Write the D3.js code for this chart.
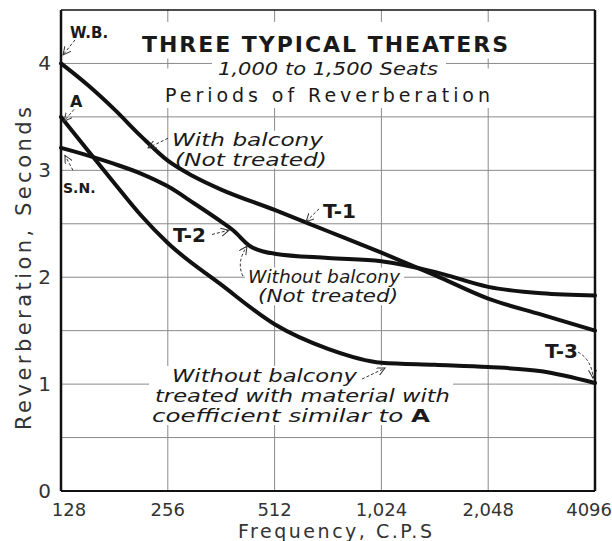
<meta charset="utf-8">
<head>
<script src="https://d3js.org/d3.v7.min.js"></script>
<style>
  body { margin: 0; background: #fff; }
  text { font-family: "DejaVu Sans", sans-serif; fill: #1a1a1a; }
</style>
</head>
<body>
<div id="container"></div>
<script>

// frequencies (c.p.s.) and reverberation periods (seconds)
var freqT1 = [128, 152, 181, 215, 256, 304, 362, 512, 724, 1024, 1448, 2048, 2896, 4096];
var secT1  = [4.0, 3.80, 3.57, 3.32, 3.09, 2.94, 2.82, 2.63, 2.43, 2.23, 2.02, 1.80, 1.65, 1.50];

var freqT2 = [128, 152, 181, 215, 256, 304, 362, 391, 437, 512, 724, 1024, 1448, 2048, 2896, 4096];
var secT2  = [3.21, 3.14, 3.06, 2.97, 2.85, 2.69, 2.52, 2.44, 2.29, 2.22, 2.18, 2.15, 2.05, 1.91, 1.85, 1.83];

var freqT3 = [128, 152, 181, 215, 256, 362, 512, 724, 1024, 1448, 2048, 2896, 4096];
var secT3  = [3.5, 3.19, 2.88, 2.58, 2.32, 1.93, 1.56, 1.33, 1.20, 1.18, 1.16, 1.12, 1.01];

var xTicks = [128, 256, 512, 1024, 2048, 4096];
var xTickLabels = ["128", "256", "512", "1,024", "2,048", "4096"];
var yTicks = [0, 1, 2, 3, 4];
var yGrid = [0.5, 1, 1.5, 2, 2.5, 3, 3.5, 4];

var width = 612, height = 541;

var svg = d3.select('#container')
  .append('svg')
  .attr('width', width)
  .attr('height', height);

var x = d3.scaleLog().base(2).domain([128, 4096]).range([61, 595]);
var y = d3.scaleLinear().domain([0, 4.5]).range([491, 10]);

// position by octaves above 128 and seconds (for the notes)
function at(oct, sec) { return [x(128 * Math.pow(2, oct)), y(sec)]; }

svg.append('defs').append('marker')
  .attr('id', 'arr')
  .attr('markerUnits', 'userSpaceOnUse')
  .attr('markerWidth', 12).attr('markerHeight', 12)
  .attr('refX', 8).attr('refY', 4)
  .attr('orient', 'auto')
  .append('path')
  .attr('d', 'M0,0 L8,4 L0,8')
  .attr('fill', 'none')
  .attr('stroke', '#333')
  .attr('stroke-width', 1);

// grid
var grid = svg.append('g');
grid.selectAll('.h').data(yGrid).enter().append('line')
  .attr('x1', x(128)).attr('x2', x(4096))
  .attr('y1', d => y(d)).attr('y2', d => y(d))
  .attr('stroke', '#8a8a8a').attr('stroke-width', 1);
grid.selectAll('.v').data(xTicks.slice(1, -1)).enter().append('line')
  .attr('x1', d => x(d)).attr('x2', d => x(d))
  .attr('y1', y(0)).attr('y2', y(4.5))
  .attr('stroke', '#8a8a8a').attr('stroke-width', 1);

// title area blanks out the grid
svg.append('rect').attr('x', 130).attr('y', 22).attr('width', 386).attr('height', 86).attr('fill', '#fff');
var g4 = svg.append('g').attr('stroke', '#8a8a8a').attr('stroke-width', 1);
g4.append('line').attr('x1', 130).attr('x2', 212).attr('y1', y(4)).attr('y2', y(4));
g4.append('line').attr('x1', 446).attr('x2', 516).attr('y1', y(4)).attr('y2', y(4));
[256, 2048].forEach(function(f) {
  g4.append('line').attr('x1', x(f)).attr('x2', x(f)).attr('y1', y(4) - 5).attr('y2', y(4) + 5);
});

// notes: text, optionally with white backing
function note(lines, size, italic, bold, backed) {
  var g = svg.append('g');
  var bg = g.append('rect').attr('fill', '#fff');
  lines.forEach(function(l) {
    var p = at(l.o, l.s);
    var t = g.append('text')
      .attr('x', p[0]).attr('y', p[1])
      .style('font-size', size + 'px')
      .style('font-style', italic ? 'italic' : 'normal')
      .style('font-weight', bold ? 'bold' : 'normal')
      .text(l.t);
    if (l.bold) t.append('tspan').style('font-weight', 'bold').style('font-style', 'normal').text(l.bold);
    if (l.w) t.attr('textLength', l.w).attr('lengthAdjust', 'spacingAndGlyphs');
  });
  if (backed) {
    var b = g.node().getBBox();
    bg.attr('x', b.x - 3).attr('y', b.y + 1).attr('width', b.width + 6).attr('height', b.height - 2);
  } else bg.remove();
  return g;
}

function arrow(a, b, c) {
  var p = at(a[0], a[1]), q = at(b[0], b[1]);
  var d = 'M' + p;
  if (c) { var k = at(c[0], c[1]); d += 'Q' + k + ' ' + q; } else d += 'L' + q;
  svg.append('path').attr('d', d)
    .attr('fill', 'none').attr('stroke', '#333').attr('stroke-width', 1)
    .attr('stroke-dasharray', '3,2')
    .attr('marker-end', 'url(#arr)');
}

note([{t: 'With balcony', o: 1.039, s: 3.23, w: 151}, {t: '(Not treated)', o: 1.067, s: 3.045, w: 152}], 17, true, false, true);
note([{t: 'Without balcony', o: 1.751, s: 1.95, w: 152}, {t: '(Not treated)', o: 1.845, s: 1.765, w: 140}], 17, true, false, true);
note([{t: 'Without balcony', o: 1.039, s: 1.02, w: 185},
      {t: 'treated with material with', o: 0.880, s: 0.833, w: 295},
      {t: 'coefficient similar to ', bold: 'A', o: 0.852, s: 0.645, w: 278}], 18, true, false, true);

// curves
var line = d3.line()
  .x(d => x(d[0])).y(d => y(d[1]))
  .curve(d3.curveMonotoneX);

[[freqT1, secT1], [freqT2, secT2], [freqT3, secT3]].forEach(function(s) {
  svg.append('path')
    .datum(d3.zip(s[0], s[1]))
    .attr('d', line)
    .attr('fill', 'none')
    .attr('stroke', '#111')
    .attr('stroke-width', 4)
    .attr('stroke-linecap', 'round');
});

// labels on curves
note([{t: 'W.B.', o: 0.084, s: 4.24}], 15, false, true);
note([{t: 'A', o: 0.084, s: 3.59}], 16, false, true);
note([{t: 'S.N.', o: 0.019, s: 2.79}], 14, false, true);
note([{t: 'T-1', o: 2.453, s: 2.55}], 20, false, true);
note([{t: 'T-2', o: 1.049, s: 2.33}], 20, false, true);
note([{t: 'T-3', o: 4.532, s: 1.243}], 20, false, true);

arrow([0.131, 4.22], [0.019, 4.08]);
arrow([0.122, 3.57], [0.028, 3.46]);
arrow([0.112, 3.0], [0.037, 3.14]);
arrow([1.002, 3.30], [0.815, 3.21]);
arrow([2.416, 2.64], [2.294, 2.52]);
arrow([1.414, 2.40], [1.573, 2.44]);
arrow([1.704, 2.01], [1.742, 2.29], [1.639, 2.14]);
arrow([2.818, 1.047], [3.034, 1.15]);
arrow([4.841, 1.30], [4.981, 1.056], [4.972, 1.224]);

// titles
svg.append('text').attr('x', 142).attr('y', 52)
  .attr('textLength', 366).attr('lengthAdjust', 'spacing')
  .style('font-size', '22px').style('font-weight', 'bold')
  .text('THREE TYPICAL THEATERS');
svg.append('text').attr('x', 218).attr('y', 75)
  .attr('textLength', 220).attr('lengthAdjust', 'spacingAndGlyphs')
  .style('font-size', '18px').style('font-style', 'italic')
  .text('1,000 to 1,500 Seats');
svg.append('text').attr('x', 165).attr('y', 102)
  .attr('textLength', 325).attr('lengthAdjust', 'spacing')
  .style('font-size', '19px')
  .text('Periods of Reverberation');

// frame
var fr = svg.append('g').attr('stroke', '#111').attr('fill', 'none');
fr.append('line').attr('x1', x(128)).attr('x2', x(4096)).attr('y1', y(4.5)).attr('y2', y(4.5)).attr('stroke-width', 1.5);
fr.append('line').attr('x1', x(128)).attr('x2', x(4096)).attr('y1', y(0)).attr('y2', y(0)).attr('stroke-width', 2);
fr.append('line').attr('x1', x(128)).attr('x2', x(128)).attr('y1', y(0)).attr('y2', y(4.5)).attr('stroke-width', 2.5);
fr.append('line').attr('x1', x(4096)).attr('x2', x(4096)).attr('y1', y(0)).attr('y2', y(4.5)).attr('stroke-width', 2.5);

// axes labels
svg.selectAll('.yt').data(yTicks).enter().append('text')
  .attr('x', 51).attr('y', d => y(d) + 7)
  .attr('text-anchor', 'end')
  .style('font-size', '20px')
  .style('fill', '#333')
  .text(d => d);

svg.selectAll('.xt').data(xTicks).enter().append('text')
  .attr('x', (d, i) => x(d) + (i === 0 ? 8 : 0)).attr('y', 516)
  .attr('text-anchor', (d, i) => i === xTicks.length - 1 ? 'end' : 'middle')
  .attr('dx', (d, i) => i === xTicks.length - 1 ? 17 : 0)
  .style('font-size', '18px')
  .style('fill', '#333')
  .text((d, i) => xTickLabels[i]);

svg.append('text').attr('x', 238).attr('y', 538)
  .attr('textLength', 194).attr('lengthAdjust', 'spacing')
  .style('font-size', '19px')
  .style('fill', '#333')
  .text('Frequency, C.P.S');

svg.append('text')
  .attr('transform', 'translate(31,430) rotate(-90)')
  .attr('textLength', 323).attr('lengthAdjust', 'spacing')
  .style('font-size', '21px')
  .style('fill', '#333')
  .text('Reverberation, Seconds');

</script>
</body>
